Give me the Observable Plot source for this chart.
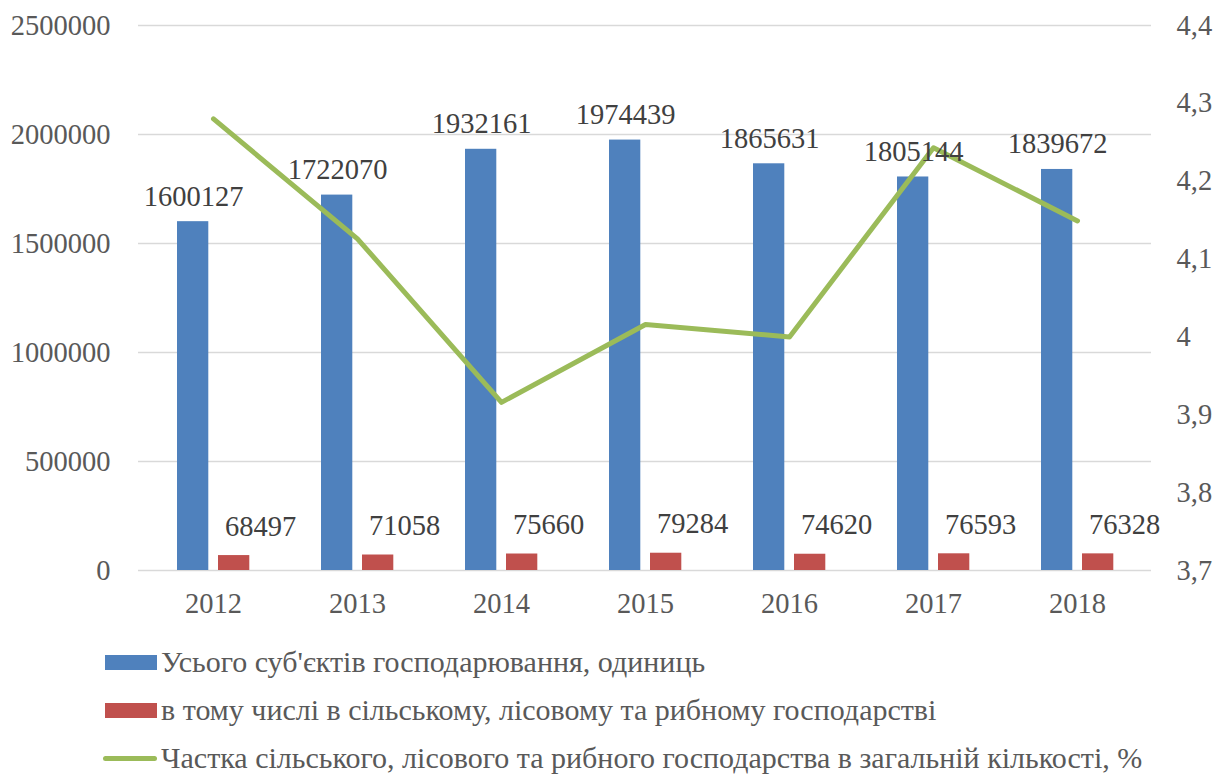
<!DOCTYPE html>
<html>
<head>
<meta charset="utf-8">
<script src="https://cdn.jsdelivr.net/npm/d3@7"></script>
<script src="https://cdn.jsdelivr.net/npm/@observablehq/plot@0.6"></script>
<style>
  html, body { margin: 0; padding: 0; background: #fff; }
  #wrap { position: relative; width: 1218px; height: 774px; overflow: hidden; font-family: "Liberation Serif", "Times New Roman", serif; }
  #legend { position: absolute; left: 0; top: 625px; width: 1218px; height: 149px; }
  .item { position: absolute; left: 105px; display: flex; align-items: center; color: #595959; font-size: 30px; white-space: nowrap; }
  .sw { width: 52px; height: 15px; margin-right: 4px; }
  .ln { width: 54px; height: 5px; margin-left: -2px; margin-right: 4px; border-radius: 3px; }
</style>
</head>
<body>
<div id="wrap"><div id="chart"></div><div id="legend"></div></div>
<script>
const years = ["2012", "2013", "2014", "2015", "2016", "2017", "2018"];
const totalEntities = [1600127, 1722070, 1932161, 1974439, 1865631, 1805144, 1839672];
const agriEntities = [68497, 71058, 75660, 79284, 74620, 76593, 76328];
const agriShare = [4.28, 4.126, 3.916, 4.016, 4.0, 4.243, 4.149];
const leftTicks = [0, 500000, 1000000, 1500000, 2000000, 2500000];
const rightTicks = [3.7, 3.8, 3.9, 4.0, 4.1, 4.2, 4.3, 4.4];
const seriesNames = [
  "Усього суб'єктів господарювання, одиниць",
  "в тому числі в сільському, лісовому та рибному господарстві",
  "Частка сільського, лісового та рибного господарства в загальній кількості, %"
];
const colors = ["#4F81BD", "#C0504D", "#9BBB59"];

const leftMax = 2500000, rMin = 3.7, rMax = 4.4;
const toLeft = v => (v - rMin) / (rMax - rMin) * leftMax;

const totals = years.map((y, i) => ({year: y, value: totalEntities[i]}));
const agri = years.map((y, i) => ({year: y, value: agriEntities[i]}));
const share = years.map((y, i) => ({year: y, value: toLeft(agriShare[i])}));

const textColor = "#404040";
const axisColor = "#595959";
const fs = 28.5;

const chart = Plot.plot({
  width: 1218,
  height: 625,
  marginLeft: 138,
  marginRight: 67,
  marginTop: 25,
  marginBottom: 55,
  style: {fontFamily: "'Liberation Serif', 'Times New Roman', serif", fontSize: fs + "px", background: "#fff"},
  x: {type: "band", domain: years, padding: 0, align: 0.5},
  y: {domain: [0, leftMax], nice: false},
  marks: [
    Plot.ruleY(leftTicks, {stroke: "#d9d9d9", strokeWidth: 1.5}),
    Plot.barY(totals, {x: "year", y: "value", fill: colors[0], insetLeft: 36, insetRight: 76.7}),
    Plot.barY(agri, {x: "year", y: "value", fill: colors[1], insetLeft: 77, insetRight: 35.7}),
    Plot.lineY(share, {x: "year", y: "value", stroke: colors[2], strokeWidth: 5, strokeLinejoin: "round", strokeLinecap: "round"}),
    Plot.text(totals, {x: "year", y: "value", text: d => String(d.value), dx: -20, dy: -16, lineAnchor: "bottom", fill: textColor, fontSize: fs}),
    Plot.text(agri, {x: "year", y: "value", text: d => String(d.value), dx: 47, dy: -20, lineAnchor: "bottom", fill: textColor, fontSize: fs}),
    Plot.axisY({anchor: "left", ticks: leftTicks, tickSize: 0, tickPadding: 28, tickFormat: d => String(d), label: null, fill: axisColor, fontSize: fs}),
    Plot.axisY({anchor: "right", ticks: rightTicks.map(toLeft), tickSize: 0, tickPadding: 25,
      tickFormat: (d, i) => String(rightTicks[i]).replace(".", ","), label: null, fill: axisColor, fontSize: fs}),
    Plot.axisX({anchor: "bottom", tickSize: 0, tickPadding: 22, label: null, fill: axisColor, fontSize: fs})
  ]
});
document.getElementById("chart").appendChild(chart);

const legend = document.getElementById("legend");
const rowsY = [37, 85, 133];
seriesNames.forEach((name, i) => {
  const it = document.createElement("div");
  it.className = "item";
  it.style.top = (rowsY[i] - 20) + "px";
  it.style.height = "40px";
  const sw = document.createElement("div");
  sw.className = i === 2 ? "ln" : "sw";
  sw.style.background = colors[i];
  const tx = document.createElement("span");
  tx.textContent = name;
  it.appendChild(sw);
  it.appendChild(tx);
  legend.appendChild(it);
});
</script>
</body>
</html>
